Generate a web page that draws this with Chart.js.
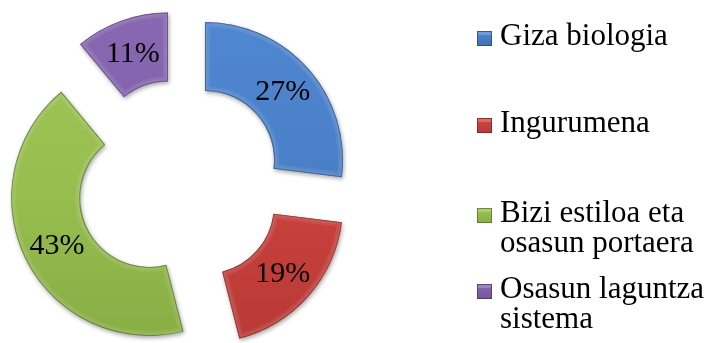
<!DOCTYPE html>
<html>
<head>
<meta charset="utf-8">
<script src="https://cdn.jsdelivr.net/npm/chart.js@4/dist/chart.umd.min.js"></script>
<style>
  html, body { margin: 0; padding: 0; background: #ffffff; }
  #wrap { width: 712px; height: 343px; position: relative; }
  .fontprobe { position: absolute; left: -9999px; top: 0; font-family: "Liberation Serif"; font-size: 30px; }
</style>
</head>
<body>
<span class="fontprobe">Giza 27%</span>
<div id="wrap"><canvas id="chart" width="712" height="343"></canvas></div>
<script>
// Health determinants, share of influence (%)
const categories = [
  'Giza biologia',
  'Ingurumena',
  ['Bizi estiloa eta', 'osasun portaera'],
  ['Osasun laguntza', 'sistema']
];
const shares = [27, 19, 43, 11];

// Palette: base fill, lighter top tone, darker bottom tone
const baseColors  = ['#4a80c8', '#c8413d', '#96bd4e', '#8261ab'];
const lightColors = ['#4f87d0', '#d04844', '#9dc455', '#8868b2'];
const darkColors  = ['#3f72b6', '#b83936', '#88ae45', '#74559c'];

const EXPLODE = 34;          // distance each ring piece is pulled out
const SERIF = '"Liberation Serif", "Times New Roman", serif';

function ringPath(ctx, a) {
  ctx.beginPath();
  ctx.arc(a.x, a.y, a.outerRadius, a.startAngle, a.endAngle);
  ctx.arc(a.x, a.y, a.innerRadius, a.endAngle, a.startAngle, true);
  ctx.closePath();
}

// Draws the doughnut pieces pulled apart, with a bevelled look and value labels
const explodedRing = {
  id: 'explodedRing',
  beforeDatasetDraw(chart, args) {
    const ctx = chart.ctx;
    const values = chart.data.datasets[args.index].data;
    args.meta.data.forEach((arc, i) => {
      const mid = (arc.startAngle + arc.endAngle) / 2;
      const dx = Math.cos(mid) * EXPLODE;
      const dy = Math.sin(mid) * EXPLODE;
      ctx.save();
      ctx.translate(dx, dy);

      // soft drop shadow under the piece
      ctx.save();
      ctx.shadowColor = 'rgba(0,0,0,0.35)';
      ctx.shadowBlur = 4;
      ctx.shadowOffsetX = 1;
      ctx.shadowOffsetY = 2;
      arc.draw(ctx);
      ctx.restore();

      // shading and bevelled rim
      ctx.save();
      ringPath(ctx, arc);
      ctx.clip();
      const top = arc.y - arc.outerRadius, bottom = arc.y + arc.outerRadius;
      const g = ctx.createLinearGradient(0, top, 0, bottom);
      g.addColorStop(0, lightColors[i]);
      g.addColorStop(0.5, baseColors[i]);
      g.addColorStop(1, darkColors[i]);
      ctx.fillStyle = g;
      ringPath(ctx, arc);
      ctx.fill();
      ctx.lineJoin = 'miter';
      ringPath(ctx, arc);
      ctx.lineWidth = 10;
      ctx.strokeStyle = 'rgba(255,255,255,0.08)';
      ctx.stroke();
      ringPath(ctx, arc);
      ctx.lineWidth = 5;
      ctx.strokeStyle = 'rgba(255,255,255,0.08)';
      ctx.stroke();
      ringPath(ctx, arc);
      ctx.lineWidth = 2;
      ctx.strokeStyle = 'rgba(0,0,0,0.3)';
      ctx.stroke();
      ctx.restore();

      // value label at the middle of the piece
      const p = arc.tooltipPosition();
      ctx.fillStyle = '#000000';
      ctx.font = '30px ' + SERIF;
      ctx.textAlign = 'center';
      ctx.textBaseline = 'middle';
      ctx.fillText(values[i] + '%', p.x, p.y + 1);
      ctx.restore();
    });
    return false;
  }
};

// Legend on the right with wrapped entries
const LEGEND_X = 477;
const LEGEND_TEXT_X = 500;
const LEGEND_BASELINES = [45, 132, 222, 298];
const LEGEND_LINE = 30;
const sideLegend = {
  id: 'sideLegend',
  afterDraw(chart) {
    const ctx = chart.ctx;
    ctx.save();
    ctx.font = '31px ' + SERIF;
    ctx.textAlign = 'left';
    ctx.textBaseline = 'alphabetic';
    chart.data.labels.forEach((label, i) => {
      const base = LEGEND_BASELINES[i];
      const sx = LEGEND_X, sy = base - 14, s = 15;
      const g = ctx.createLinearGradient(0, sy, 0, sy + s);
      g.addColorStop(0, lightColors[i]);
      g.addColorStop(1, darkColors[i]);
      ctx.fillStyle = g;
      ctx.fillRect(sx, sy, s, s);
      ctx.fillStyle = 'rgba(255,255,255,0.2)';
      ctx.fillRect(sx + 1, sy + 1, s - 2, 3);
      ctx.strokeStyle = 'rgba(0,0,0,0.3)';
      ctx.lineWidth = 1;
      ctx.strokeRect(sx + 0.5, sy + 0.5, s - 1, s - 1);
      const lines = Array.isArray(label) ? label : [label];
      ctx.fillStyle = '#000000';
      lines.forEach((line, k) => ctx.fillText(line, LEGEND_TEXT_X, base + k * LEGEND_LINE));
    });
    ctx.restore();
  }
};

const chart = new Chart(document.getElementById('chart'), {
  type: 'doughnut',
  data: {
    labels: categories,
    datasets: [{
      data: shares,
      backgroundColor: baseColors,
      borderWidth: 0,
      hoverOffset: 0,
      offset: 0
    }]
  },
  options: {
    responsive: false,
    animation: false,
    radius: 138,
    cutout: '50%',
    rotation: 0,
    layout: { padding: { left: 0, right: 353, top: 22, bottom: 0 } },
    plugins: {
      legend: { display: false },
      tooltip: { enabled: false }
    },
    events: []
  },
  plugins: [explodedRing, sideLegend]
});

// redraw once the serif face is ready
if (document.fonts && document.fonts.load) {
  document.fonts.load('30px "Liberation Serif"').then(() => chart.draw());
}
</script>
</body>
</html>
